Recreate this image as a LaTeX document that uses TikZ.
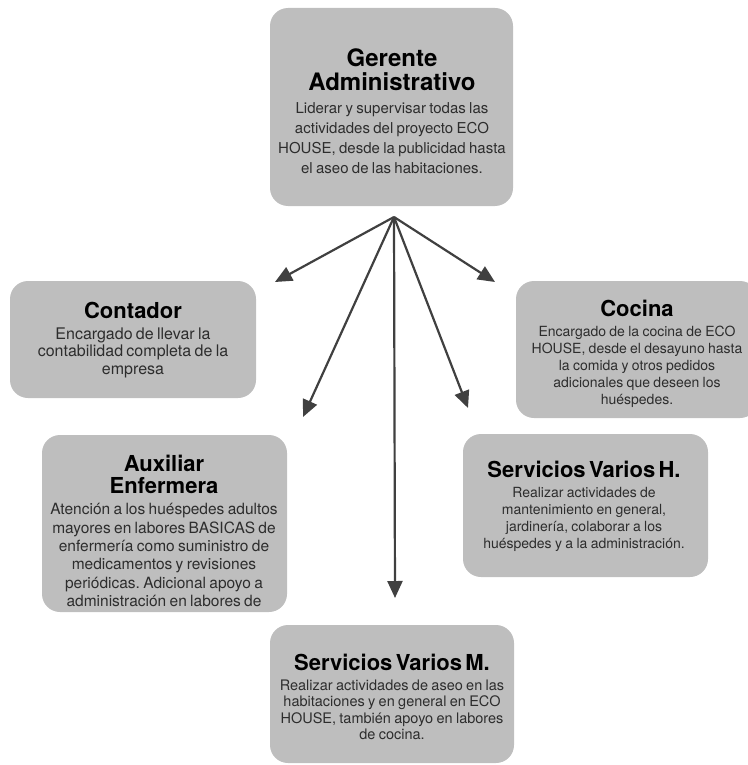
\documentclass[tikz,border=0pt]{standalone}
\usepackage{fontspec}
\setmainfont{TeX Gyre Heros}
\usetikzlibrary{arrows.meta}
\frenchspacing

\definecolor{boxgray}{RGB}{190,190,190}
\definecolor{linkgray}{RGB}{64,64,64}
\definecolor{bodytext}{RGB}{45,45,45}

\newcommand{\roletitle}[2][22]{{\fontsize{#1}{#1}\selectfont\bfseries\color{black}#2\par}\vspace{3pt}}
\newcommand{\rolebody}[3]{{\fontsize{#1}{#2}\selectfont\color{bodytext}#3\par}}

\tikzset{
  rolebox/.style={fill=boxgray, rounded corners=18pt, inner sep=0pt, draw=none},
  roletext/.style={text width=260pt, align=center, inner sep=0pt},
  link/.style={draw=linkgray, line width=2.2pt,
    -{Triangle[length=17pt, width=15pt]}},
}

\begin{document}
\begin{tikzpicture}[x=1pt, y=-1pt]
\useasboundingbox (0,0) rectangle (747,765);

% boxes
\node[rolebox, minimum width=243pt, minimum height=198pt] (ger) at (391.5,107) {};
\node[rolebox, minimum width=246pt, minimum height=117pt] (con) at (133,339.5) {};
\node[rolebox, minimum width=242pt, minimum height=137pt] (coc) at (637,349.5) {};
\node[rolebox, minimum width=245pt, minimum height=177pt] (aux) at (164.5,523.5) {};
\node[rolebox, minimum width=245pt, minimum height=143pt] (svh) at (585.5,505.5) {};
\node[rolebox, minimum width=244pt, minimum height=138pt] (svm) at (392,694) {};

% texts
\node[roletext] (gerT) at (392,111) {%
  \roletitle[24]{Gerente\\Administrativo}%
  \rolebody{15}{20}{Liderar y supervisar todas las\\actividades del proyecto ECO\\HOUSE, desde la publicidad hasta\\el aseo de las habitaciones.}};
\node[roletext] (conT) at (133,340) {%
  \roletitle{Contador}%
  \rolebody{16}{17.5}{Encargado de llevar la\\contabilidad completa de la\\empresa}};
\node[roletext] (cocT) at (637,354) {%
  \roletitle{Cocina}%
  \rolebody{14}{17}{Encargado de la cocina de ECO\\HOUSE, desde el desayuno hasta\\la comida y otros pedidos\\adicionales que deseen los\\huéspedes.}};
\node[roletext] (auxT) at (164,531) {%
  \roletitle{Auxiliar\\Enfermera}%
  \rolebody{15.5}{18.3}{Atención a los huéspedes adultos\\mayores en labores BASICAS de\\enfermería como suministro de\\medicamentos y revisiones\\periódicas. Adicional apoyo a\\administración en labores de}};
\node[roletext] (svhT) at (584,506) {%
  \roletitle{Servicios Varios H.}%
  \rolebody{14}{17}{Realizar actividades de\\mantenimiento en general,\\jardinería, colaborar a los\\huéspedes y a la administración.}};
\node[roletext] (svmT) at (392,697) {%
  \roletitle{Servicios Varios M.}%
  \rolebody{14.5}{16.5}{Realizar actividades de aseo en las\\habitaciones y en general en ECO\\HOUSE, también apoyo en labores\\de cocina.}};

% connectors
\coordinate (hub) at (394,217);
\coordinate (toCon) at (275,282);
\coordinate (toAux) at (303,417);
\coordinate (toSvm) at (395,598);
\coordinate (toSvh) at (468,408);
\coordinate (toCoc) at (495,282);
\draw[link] (hub) -- (toCon);
\draw[link] (hub) -- (toAux);
\draw[link] (hub) -- (toSvm);
\draw[link] (hub) -- (toSvh);
\draw[link] (hub) -- (toCoc);
\end{tikzpicture}
\end{document}
